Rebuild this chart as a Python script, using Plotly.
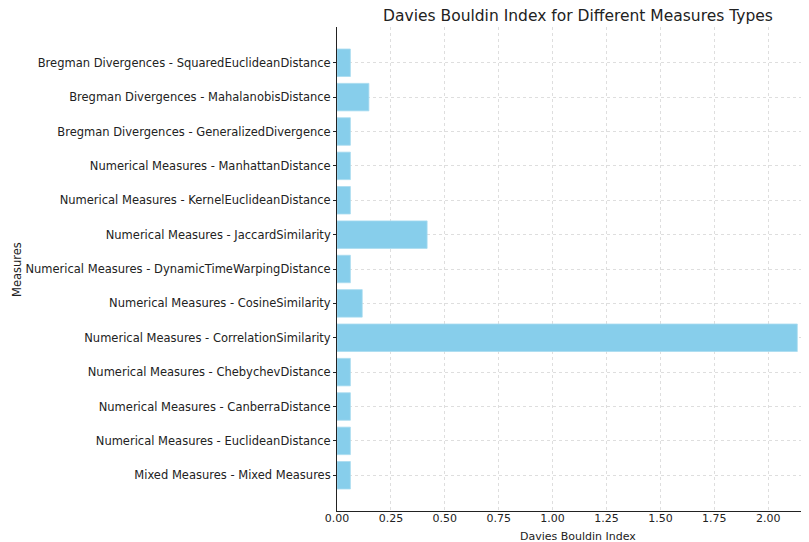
import plotly.graph_objects as go

categories = [
    "Mixed Measures - Mixed Measures",
    "Numerical Measures - EuclideanDistance",
    "Numerical Measures - CanberraDistance",
    "Numerical Measures - ChebychevDistance",
    "Numerical Measures - CorrelationSimilarity",
    "Numerical Measures - CosineSimilarity",
    "Numerical Measures - DynamicTimeWarpingDistance",
    "Numerical Measures - JaccardSimilarity",
    "Numerical Measures - KernelEuclideanDistance",
    "Numerical Measures - ManhattanDistance",
    "Bregman Divergences - GeneralizedDivergence",
    "Bregman Divergences - MahalanobisDistance",
    "Bregman Divergences - SquaredEuclideanDistance",
]
values = [0.062, 0.062, 0.062, 0.062, 2.135, 0.117, 0.062, 0.418, 0.062, 0.062, 0.062, 0.148, 0.062]
x_ticks = [0.0, 0.25, 0.5, 0.75, 1.0, 1.25, 1.5, 1.75, 2.0]

# page body has an 8px margin; lay out in figure coordinates
OFF = 8
W, H = 809 - OFF, 542 - OFF
L = 337 - OFF
T = 27 - OFF
B = H - (511 - OFF)
R = 0
plot_w = W - L - R
plot_h = H - T - B

fig = go.Figure()
fig.add_trace(go.Bar(
    y=list(range(len(categories))),
    x=values,
    orientation="h",
    width=0.8,
    marker=dict(color="#87CEEB", line=dict(color="#a9dcf0", width=0.8)),
))

font = "DejaVu Sans, Arial, sans-serif"
fig.update_layout(
    width=W, height=H,
    margin=dict(l=L, r=R, t=T, b=B, autoexpand=False),
    plot_bgcolor="white", paper_bgcolor="white",
    showlegend=False,
    font=dict(family=font, size=11.5, color="#222222"),
    title=dict(text="Davies Bouldin Index for Different Measures Types",
               x=(578 - OFF) / W, xanchor="center", xref="container",
               y=1 - (16 - OFF) / H, yanchor="middle", yref="container",
               font=dict(family=font, size=15.5, color="#222222")),
    xaxis=dict(range=[0, plot_w / 215.6], tickvals=x_ticks, tickformat=".2f",
               showgrid=True, gridcolor="#dedede", griddash="dot", gridwidth=1,
               showline=True, linecolor="#222222", linewidth=1,
               ticks="", ticklabelstandoff=-3,
               zeroline=False, tickfont=dict(size=11)),
    yaxis=dict(range=[-1.04, 13.04], tickvals=list(range(len(categories))),
               ticktext=categories,
               showgrid=True, gridcolor="#dedede", griddash="dot", gridwidth=1,
               showline=True, linecolor="#222222", linewidth=1,
               ticks="outside", ticklen=3, tickcolor="#222222",
               zeroline=False, tickfont=dict(size=11.5)),
    annotations=[
        dict(text="Davies Bouldin Index", xref="paper", yref="paper",
             x=(578 - 337) / plot_w, y=-(536 - 511) / plot_h,
             xanchor="center", yanchor="middle", showarrow=False,
             font=dict(size=11, family=font, color="#222222")),
        dict(text="Measures", xref="paper", yref="paper",
             x=(17 - 337) / plot_w, y=1 - (270 - 27) / plot_h,
             xanchor="center", yanchor="middle", textangle=-90, showarrow=False,
             font=dict(size=11.5, family=font, color="#222222")),
    ],
)

fig.write_html("out.html")
